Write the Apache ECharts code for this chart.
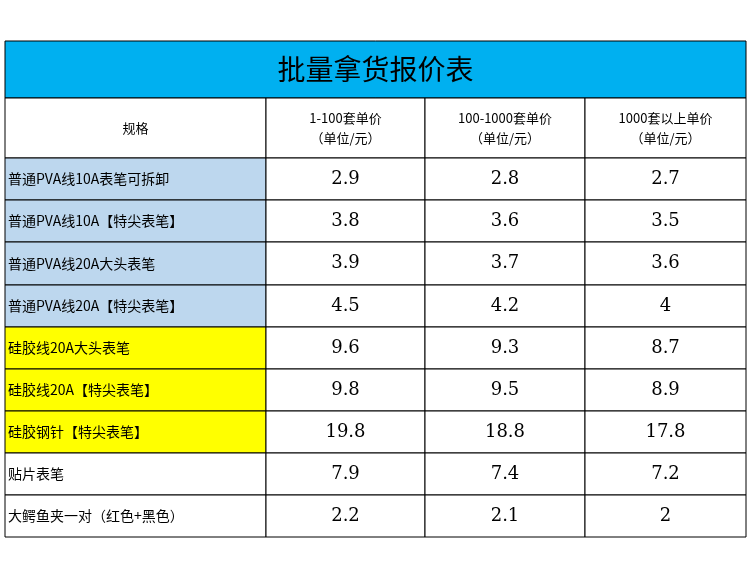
<!DOCTYPE html>
<html><head><meta charset="utf-8">
<script src="https://cdn.jsdelivr.net/npm/echarts@6/dist/echarts.min.js"></script>
<style>html,body{margin:0;padding:0;background:#fff}#c{width:750px;height:577px}</style>
</head><body><div id="c"></div>
<script>
const title = '批量拿货报价表';
const headers = ['规格', '1-100套单价\n（单位/元）', '100-1000套单价\n（单位/元）', '1000套以上单价\n（单位/元）'];
const specs = ['普通PVA线10A表笔可拆卸','普通PVA线10A【特尖表笔】','普通PVA线20A大头表笔','普通PVA线20A【特尖表笔】','硅胶线20A大头表笔','硅胶线20A【特尖表笔】','硅胶钢针【特尖表笔】','贴片表笔','大鳄鱼夹一对（红色+黑色）'];
const price1 = [2.9, 3.8, 3.9, 4.5, 9.6, 9.8, 19.8, 7.9, 2.2];
const price2 = [2.8, 3.6, 3.7, 4.2, 9.3, 9.5, 18.8, 7.4, 2.1];
const price3 = [2.7, 3.5, 3.6, 4, 8.7, 8.9, 17.8, 7.2, 2];
const groups = ['blue','blue','blue','blue','yellow','yellow','yellow','white','white'];

// layout (axis units = pixels of the table)
const colEdges = [0, 261, 420, 580, 741];
const rowEdges = [0, 57, 117, 159, 201, 244, 286, 328, 370, 412, 454, 496];
const fills = {blue:'#BDD7EE', yellow:'#FFFF00', white:'#FFFFFF'};

const data = [];
data.push([0, 4, 0, title, 'title']);
headers.forEach((h,c)=>data.push([c, c+1, 1, h, 'header']));
specs.forEach((s,i)=>{
  const r = i+2;
  data.push([0,1,r,s,groups[i]]);
  [price1,price2,price3].forEach((p,k)=>data.push([k+1,k+2,r,String(p[i]),'num']));
});

const chart = echarts.init(document.getElementById('c'));
chart.setOption({
  animation:false,
  grid:{left:5, top:41, width:741, height:496},
  xAxis:{type:'value', min:0, max:741, show:false},
  yAxis:{type:'value', min:0, max:496, inverse:true, show:false},
  series:[{
    type:'custom',
    data: data,
    renderItem:(params, api)=>{
      const c0=api.value(0), c1=api.value(1), r=api.value(2);
      const item = data[params.dataIndex];
      const kind = item[4], text = item[3];
      const p0 = api.coord([colEdges[c0], rowEdges[r]]);
      const p1 = api.coord([colEdges[c1], rowEdges[r+1]]);
      const w=p1[0]-p0[0], h=p1[1]-p0[1];
      let fill='#fff', font='15px "Noto Sans CJK SC"', align='center', tx=p0[0]+w/2;
      if(kind==='title'){fill='#00B0F0'; font='28px "Noto Sans CJK SC"';}
      else if(kind==='header'){font='13px "Noto Sans CJK SC"';}
      else if(kind==='num'){font='18px "DejaVu Serif"';}
      else {fill=fills[kind]; font='14px "Noto Sans CJK SC"'; align='left'; tx=p0[0]+3;}
      return {type:'group', children:[
        {type:'rect', shape:{x:p0[0], y:p0[1], width:w, height:h}, style:{fill:fill, stroke:'#000', lineWidth:1}},
        {type:'text', style:{x:tx, y:p0[1]+h/2, text:text, align:align, verticalAlign:'middle', font:font, fill:'#000', lineHeight:20}}
      ]};
    }
  }]
});
</script></body></html>
